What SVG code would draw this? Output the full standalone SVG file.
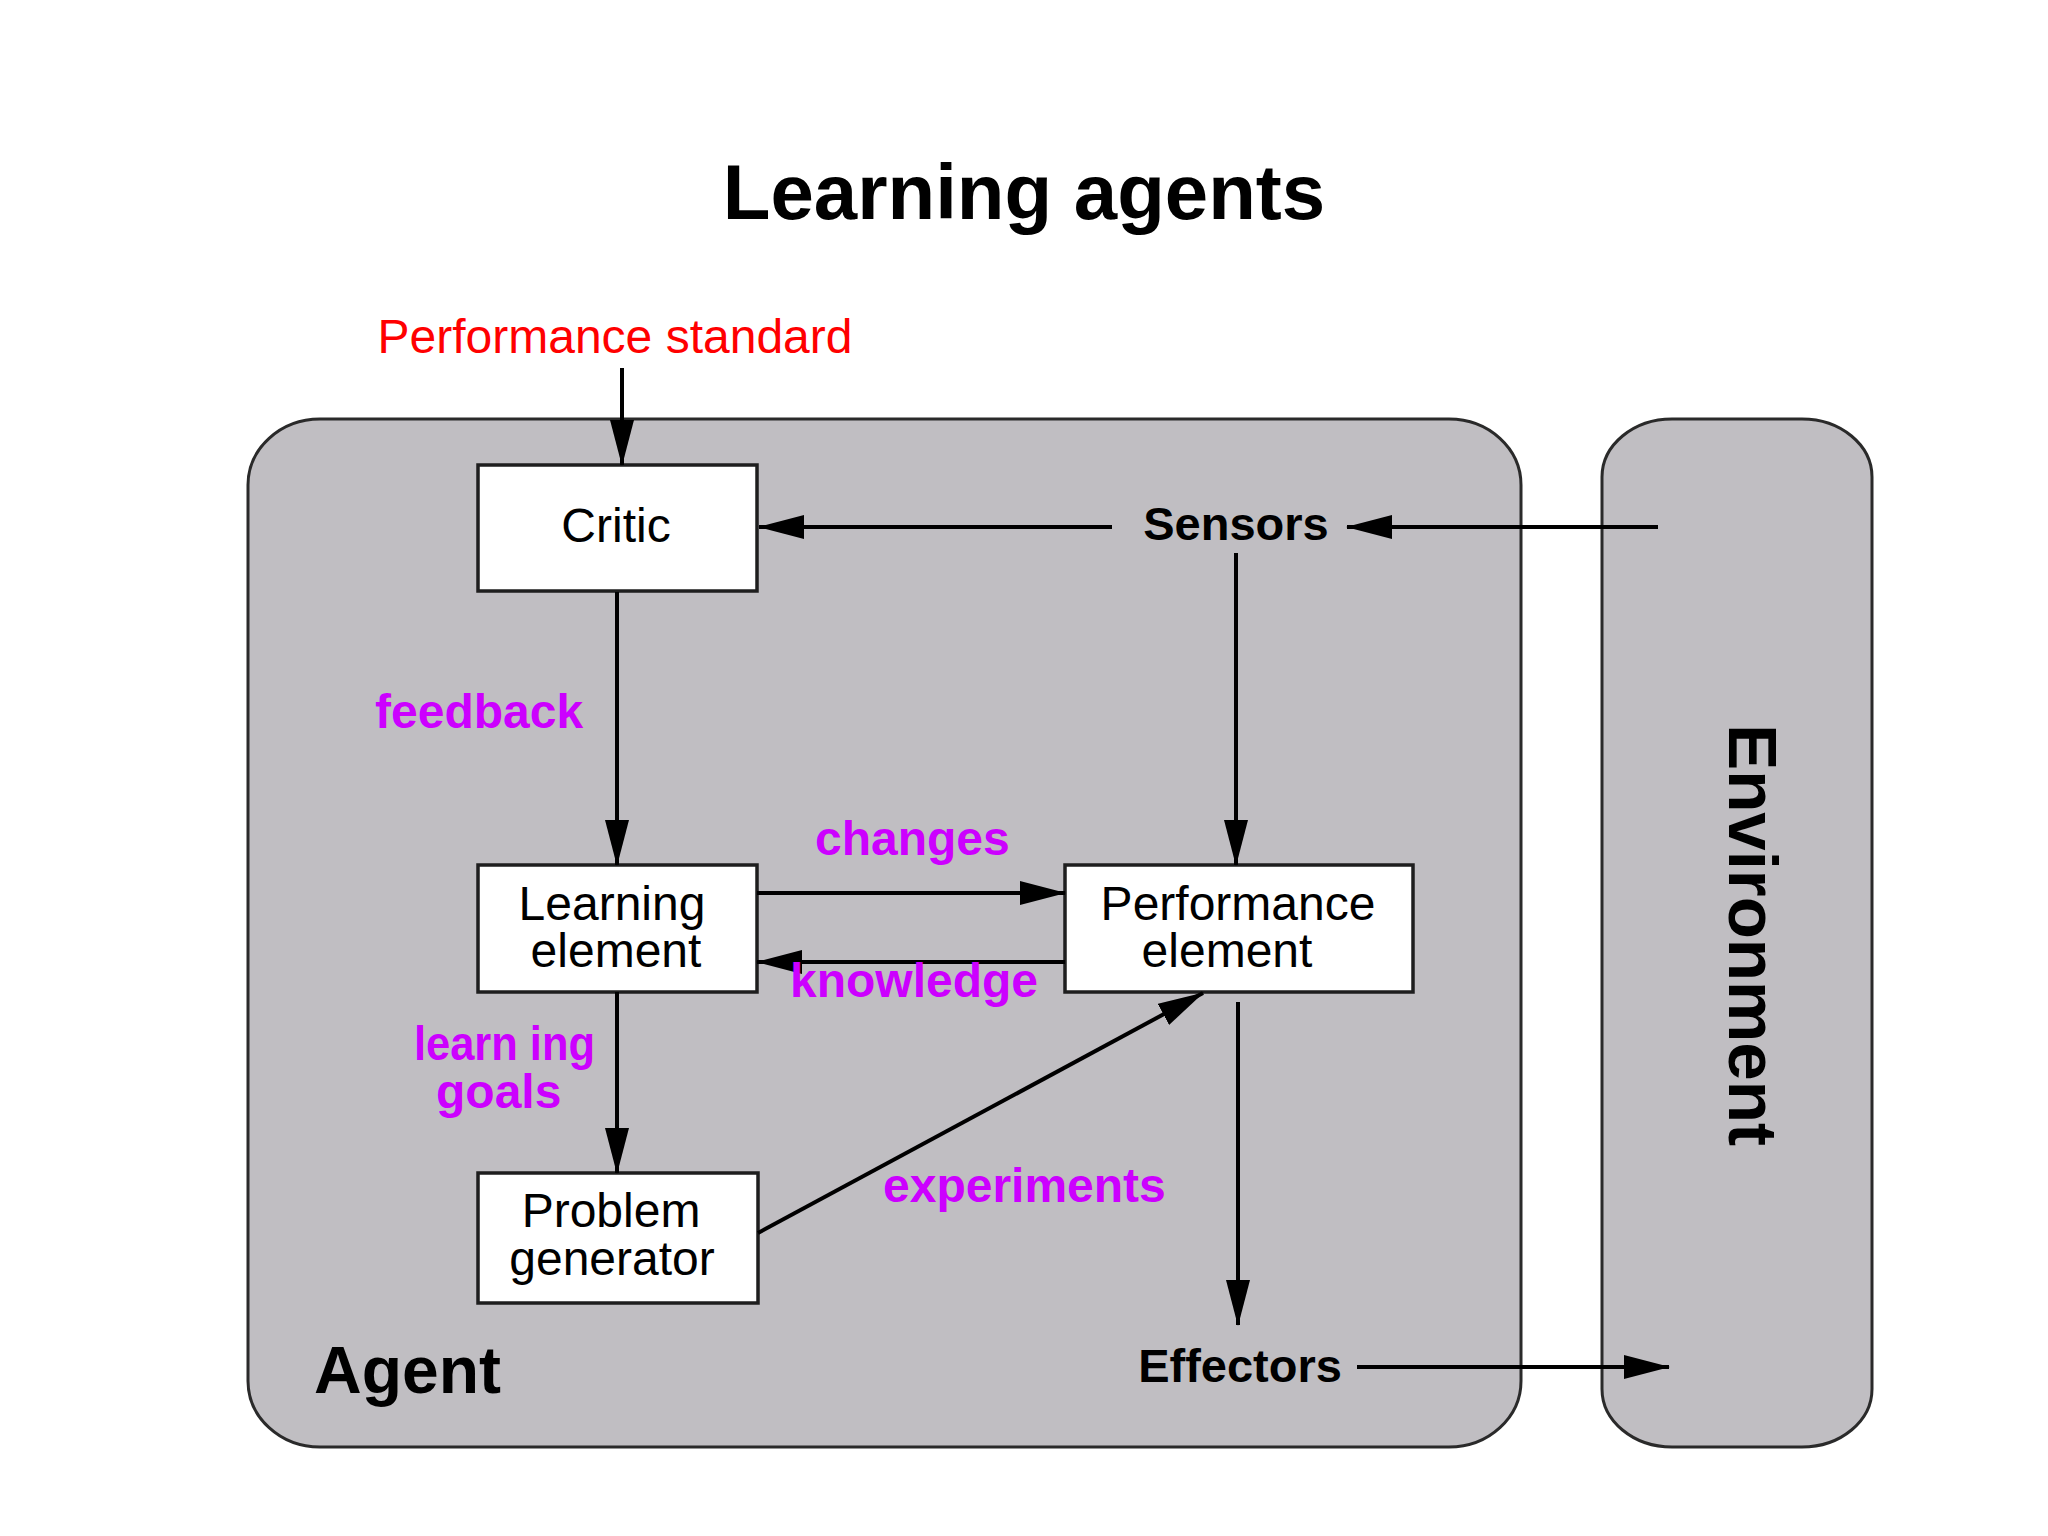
<svg xmlns="http://www.w3.org/2000/svg" width="2048" height="1536" viewBox="0 0 2048 1536">
  <defs>
    <style>
      .container { fill: #c0bec2; stroke: #2a2a2a; stroke-width: 3; }
      .box { fill: #ffffff; stroke: #1e1e1e; stroke-width: 3.5; }
      .lbl { font-family: "Liberation Sans", Arial, sans-serif; font-size: 48px; fill: #000; text-anchor: middle; }
      .bold { font-family: "Liberation Sans", Arial, sans-serif; font-weight: bold; fill: #000; }
      .edge-lbl { font-family: "Liberation Sans", Arial, sans-serif; font-weight: bold; font-size: 48px; fill: #cc00ff; }
      .conn { stroke: #000; stroke-width: 4; fill: none; marker-end: url(#arrow); }
    </style>
    <marker id="arrow" markerUnits="userSpaceOnUse" markerWidth="46" markerHeight="24" refX="45" refY="12" orient="auto" viewBox="0 0 46 24">
      <path d="M0,0 L46,12 L0,24 Z" fill="#000"/>
    </marker>
  </defs>

  <rect width="2048" height="1536" fill="#ffffff"/>

  <text id="title" class="bold" x="1024" y="219" font-size="78" text-anchor="middle">Learning agents</text>

  <g id="agent">
    <rect class="container" x="248" y="419" width="1273" height="1028" rx="72" ry="66"/>
    <text class="bold" x="314" y="1393" font-size="66">Agent</text>
  </g>

  <g id="environment">
    <rect class="container" x="1602" y="419" width="270" height="1028" rx="70" ry="58"/>
    <text class="bold" font-size="69" text-anchor="middle" transform="translate(1729,935) rotate(90)">Environment</text>
  </g>

  <g id="performance-standard">
    <text class="lbl" x="615" y="353" fill="#ff0000" style="fill:#ff0000">Performance standard</text>
  </g>

  <g id="critic">
    <rect class="box" x="478" y="465" width="279" height="126"/>
    <text class="lbl" x="616" y="542">Critic</text>
  </g>

  <g id="sensors">
    <text class="bold" x="1236" y="540" font-size="47" text-anchor="middle">Sensors</text>
  </g>

  <g id="learning-element">
    <rect class="box" x="478" y="865" width="279" height="127"/>
    <text class="lbl" x="612" y="920">Learning</text>
    <text class="lbl" x="616" y="967">element</text>
  </g>

  <g id="performance-element">
    <rect class="box" x="1065" y="865" width="348" height="127"/>
    <text class="lbl" x="1238" y="920">Performance</text>
    <text class="lbl" x="1227" y="967">element</text>
  </g>

  <g id="problem-generator">
    <rect class="box" x="478" y="1173" width="280" height="130"/>
    <text class="lbl" x="611" y="1227">Problem</text>
    <text class="lbl" x="612" y="1275">generator</text>
  </g>

  <g id="effectors">
    <text class="bold" x="1240" y="1382" font-size="47" text-anchor="middle">Effectors</text>
  </g>

  <g id="connectors">
    <path class="conn" d="M622,368 L622,465"/>
    <path class="conn" d="M1112,527 L759,527"/>
    <path class="conn" d="M1658,527 L1347,527"/>
    <path class="conn" d="M1236,553 L1236,865"/>
    <path class="conn" d="M617,592 L617,865"/>
    <path class="conn" d="M757,893 L1065,893"/>
    <path class="conn" d="M1065,962 L757,962"/>
    <path class="conn" d="M617,992 L617,1173"/>
    <path class="conn" d="M758,1233 L1203,993"/>
    <path class="conn" d="M1238,1002 L1238,1325"/>
    <path class="conn" d="M1357,1367 L1669,1367"/>
  </g>

  <g id="connector-labels">
    <text class="edge-lbl" x="375" y="728">feedback</text>
    <text class="edge-lbl" x="815" y="855">changes</text>
    <text class="edge-lbl" x="790" y="997">knowledge</text>
    <text class="edge-lbl" x="414" y="1060" textLength="181" lengthAdjust="spacingAndGlyphs">learn ing</text>
    <text class="edge-lbl" x="436" y="1108">goals</text>
    <text class="edge-lbl" x="883" y="1202">experiments</text>
  </g>
</svg>
